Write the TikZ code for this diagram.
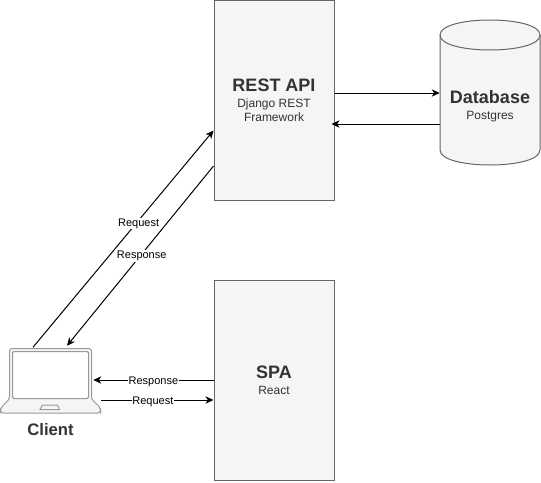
\documentclass[tikz,border=0pt]{standalone}
\usepackage{fontspec}
\setmainfont{Liberation Sans}
\usepackage{tikz}
\usetikzlibrary{arrows.meta,calc,positioning}
\definecolor{boxfill}{HTML}{F5F5F5}
\definecolor{boxline}{HTML}{666666}
\definecolor{boxtext}{HTML}{333333}
\definecolor{laptopline}{HTML}{999999}
\newcommand{\boxtitle}[1]{{\fontsize{13.5}{16}\selectfont\bfseries #1}}

\begin{document}
\begin{tikzpicture}[
    x=0.75pt, y=-0.75pt,
    box/.style={draw=boxline, fill=boxfill, text=boxtext, align=center, line width=0.75pt, minimum width=90pt, minimum height=150pt, inner sep=0pt, font=\fontsize{9}{10.5}\selectfont},
    dbbox/.style={text=boxtext, align=center, minimum width=75pt, minimum height=89pt, inner sep=0pt, font=\fontsize{9}{10.5}\selectfont},
    shell/.style={draw=boxline, fill=boxfill, line width=0.75pt},
    laptop/.style={draw=laptopline, line width=0.75pt},
    arrow/.style={-{Stealth[length=6pt,width=5.5pt,inset=1.8pt]}, line width=0.75pt, black},
    linelabel/.style={fill=white, inner xsep=0.6pt, inner ysep=0.6pt, yshift=-1.5pt, font=\fontsize{8.25}{10}\selectfont, text=black}
]
\useasboundingbox (0,0) rectangle (541,482);

\node[box] at (274,100) (rest) {\boxtitle{REST API}\\[1.4pt]Django REST\\Framework};
\node[box] at (274,380) (spa) {\boxtitle{SPA}\\[1.4pt]React};

% database
\filldraw[shell] (440,35) .. controls (440,15) and (540,15) .. (540,35) -- (540,150) .. controls (540,170) and (440,170) .. (440,150) -- cycle;
\draw[shell, fill=none] (440,35) .. controls (440,55) and (540,55) .. (540,35);
\node[dbbox] at (490,106) (db) {\boxtitle{Database}\\[1.4pt]Postgres};

% laptop
\node[minimum width=75.75pt, minimum height=48.75pt, inner sep=0pt] at (50.5,380.5) (client) {};
\filldraw[laptop, fill=boxfill, rounded corners=2pt] (9.5,399) -- (9.5,348.5) -- (91.5,348.5) -- (91.5,399) -- (100.5,408) -- (100.5,413) -- (0.5,413) -- (0.5,408) -- cycle;
\filldraw[laptop, fill=white, rounded corners=1pt] (12.5,398.5) -- (12.5,351.5) -- (88.5,351.5) -- (88.5,398.5) -- cycle;
\filldraw[laptop, fill=boxfill] (40,409.5) -- (42.5,405) -- (57.5,405) -- (59.5,409.5) -- cycle;
\node[below=4pt of client, font=\fontsize{12.5}{14}\selectfont\bfseries, text=boxtext] (clientlabel) {Client};

\draw[arrow] ($(rest.east)+(0,-7)$) -- ($(db.west)+(0,-13)$);
\draw[arrow] ($(db.west)+(0,18)$) -- ($(rest.east)+(-3,24)$);

\draw[arrow] ($(client.north)+(-17.5,-0.5)$) -- node[linelabel, pos=0.58, xshift=0.7pt] (reqapi) {Request} ($(rest.west)+(0,30.5)$);
\draw[arrow] ($(rest.west)+(0,66)$) -- node[linelabel, pos=0.49] (resapi) {Response} ($(client.north)+(16.5,-2)$);

\draw[arrow] (spa.west) -- node[linelabel, pos=0.5] (resspa) {Response} ($(client.east)+(-8,-0.5)$);
\draw[arrow] ($(client.east)+(0,19.5)$) -- node[linelabel, pos=0.46] (reqspa) {Request} ($(spa.west)+(0,20)$);
\end{tikzpicture}
\end{document}
